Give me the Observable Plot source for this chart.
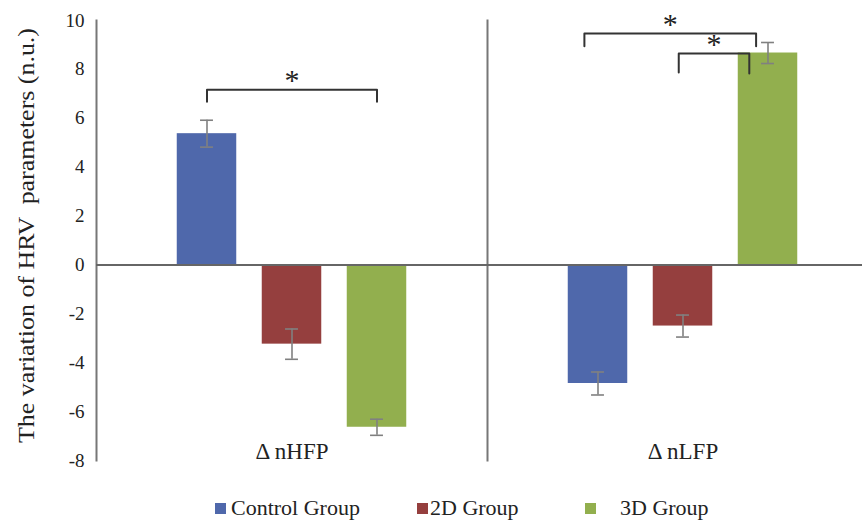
<!DOCTYPE html>
<html>
<head>
<meta charset="utf-8">
<script src="https://cdn.jsdelivr.net/npm/d3@7"></script>
<script src="https://cdn.jsdelivr.net/npm/@observablehq/plot@0.6"></script>
<style>
  body { margin: 0; background: #fff; }
  #chart { position: relative; width: 862px; height: 521px; font-family: "Liberation Serif", "Times New Roman", serif; }
  #legend { position: absolute; left: 0; top: 475px; width: 862px; height: 46px; }
  #legend .sw { position: absolute; width: 11px; height: 11px; top: 28px; }
  #legend .lb { position: absolute; top: 18px; font-size: 22px; line-height: 30px; color: #222; white-space: nowrap; }
</style>
</head>
<body>
<div id="chart"><div id="legend"></div></div>
<script>
// Change of HRV parameters (n.u.) by group, mean ± error
const panels = ["Δ nHFP", "Δ nLFP"];
const groups = ["Control Group", "2D Group", "3D Group"];
const groupColors = ["#4f68ab", "#953f3e", "#92af4e"];
const meanHFP = [5.37, -3.24, -6.64];
const errHFP = [0.55, 0.62, 0.33];
const meanLFP = [-4.85, -2.5, 8.67];
const errLFP = [0.47, 0.45, 0.43];
const yTicks = [-8, -6, -4, -2, 0, 2, 4, 6, 8, 10];

// Significance brackets between pairs of groups (heights in n.u.)
const brackets = [
  {panel: "Δ nHFP", from: "Control Group", to: "3D Group", top: 7.17, legFrom: 6.68, legTo: 6.68, mark: "*"},
  {panel: "Δ nLFP", from: "Control Group", to: "3D Group", top: 9.47, legFrom: 8.95, legTo: 8.95, mark: "*"},
  {panel: "Δ nLFP", from: "2D Group", to: "3D Group", top: 8.65, legFrom: 7.87, legTo: 7.83, mark: "*"}
];
// horizontal nudge of each bracket's ends, in bar-step units
const bracketNudge = [[0, 0], [-0.16, -0.14], [-0.05, -0.22]];

const means = [meanHFP, meanLFP];
const errs = [errHFP, errLFP];
const rows = panels.flatMap((panel, k) =>
  groups.map((group, i) => ({panel, group, i, mean: means[k][i], err: errs[k][i]}))
);
const caps = rows.flatMap(d => [{...d, y: d.mean - d.err}, {...d, y: d.mean + d.err}]);

const bracketPaths = brackets.flatMap((b, j) => {
  const x1 = groups.indexOf(b.from) + bracketNudge[j][0];
  const x2 = groups.indexOf(b.to) + bracketNudge[j][1];
  return [
    {id: j, panel: b.panel, x: x1, y: b.legFrom},
    {id: j, panel: b.panel, x: x1, y: b.top},
    {id: j, panel: b.panel, x: x2, y: b.top},
    {id: j, panel: b.panel, x: x2, y: b.legTo}
  ];
});
const bracketMarks = brackets.map((b, j) => ({
  panel: b.panel,
  mark: b.mark,
  top: b.top,
  x: (groups.indexOf(b.from) + bracketNudge[j][0] + groups.indexOf(b.to) + bracketNudge[j][1]) / 2
}));

const HALF = 0.35;   // half bar width (bar-step units)
const CAP = 0.076;   // half error-cap width

const plot = Plot.plot({
  width: 862,
  height: 475,
  marginTop: 20,
  marginBottom: 15,
  marginLeft: 96,
  marginRight: 0,
  style: {fontFamily: "'Liberation Serif', 'Times New Roman', serif", fontSize: "19px", color: "#222", background: "#fff"},
  fx: {domain: panels, range: [96, 878], padding: 0, axis: null},
  x: {domain: [-1.3, 3.3], axis: null},
  y: {domain: [-8, 10], axis: null},
  color: {domain: groups, range: groupColors},
  marks: [
    Plot.frame({anchor: "left", stroke: "#777", strokeWidth: 2}),
    Plot.rect(rows, {fx: "panel", x1: d => d.i - HALF, x2: d => d.i + HALF, y1: 0, y2: "mean", fill: "group"}),
    Plot.ruleY([0], {stroke: "#666", strokeWidth: 2}),
    Plot.ruleX(rows, {fx: "panel", x: "i", y1: d => d.mean - d.err, y2: d => d.mean + d.err, stroke: "#808080", strokeWidth: 1.6}),
    Plot.ruleY(caps, {fx: "panel", y: "y", x1: d => d.i - CAP, x2: d => d.i + CAP, stroke: "#808080", strokeWidth: 1.6}),
    Plot.line(bracketPaths, {fx: "panel", x: "x", y: "y", z: "id", stroke: "#333", strokeWidth: 2}),
    Plot.text(bracketMarks, {fx: "panel", x: "x", y: "top", text: "mark", fontSize: 30, dy: -9, lineAnchor: "middle", fill: "#222"}),
    Plot.text(panels, {fx: d => d, text: d => d, frameAnchor: "bottom", lineAnchor: "bottom", dy: -2, fontSize: 23, fill: "#222", ariaLabel: "panel label"}),
    Plot.axisY(yTicks, {anchor: "left", tickSize: 0, tickPadding: 12, fontSize: 19, tickFormat: d => `${d}`,
      label: "The variation of HRV  parameters (n.u.)", labelArrow: false, labelAnchor: "center", labelOffset: 80})
  ]
});
document.getElementById("chart").prepend(plot);

// fit label lengths
const svg = d3.select(plot);
svg.selectAll('g[aria-label="y-axis label"] text')
  .attr("font-size", 24).attr("dx", 5).attr("textLength", 415).attr("lengthAdjust", "spacingAndGlyphs");
svg.selectAll('g[aria-label="panel label"] text')
  .attr("textLength", 85).attr("lengthAdjust", "spacingAndGlyphs");

// legend
const legendPos = [{sw: 215, lb: 231}, {sw: 417, lb: 430}, {sw: 585, lb: 620}];
const legend = d3.select("#legend");
groups.forEach((g, i) => {
  legend.append("div").attr("class", "sw").style("left", legendPos[i].sw + "px").style("background", groupColors[i]);
  legend.append("div").attr("class", "lb").style("left", legendPos[i].lb + "px").text(g);
});
</script>
</body>
</html>
